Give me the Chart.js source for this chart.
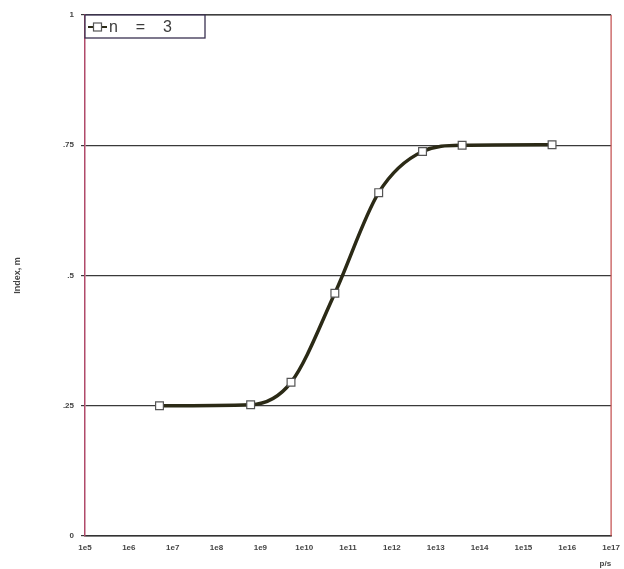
<!DOCTYPE html>
<html>
<head>
<meta charset="utf-8">
<script src="https://cdn.jsdelivr.net/npm/chart.js@4.4.1/dist/chart.umd.min.js"></script>
<style>
  html, body { margin: 0; padding: 0; background: #fff; }
  #wrap { width: 624px; height: 569px; position: relative; }
</style>
</head>
<body>
<div id="wrap"><canvas id="chart-canvas"></canvas></div>
<script>
// values
const xValues = [5e6, 6e8, 5e9, 5e10, 5e11, 5e12, 4e13, 4.5e15];
const yValues = [0.25, 0.252, 0.295, 0.466, 0.659, 0.738, 0.75, 0.751];
const seriesLabel = 'n = 3';
const xTickExps = [5, 6, 7, 8, 9, 10, 11, 12, 13, 14, 15, 16, 17];
const yTickValues = [0, 0.25, 0.5, 0.75, 1];
const yTickLabels = ['0', '.25', '.5', '.75', '1'];

const ink = '#2b2a16';
const tickFont = { family: 'Liberation Sans', size: 8, weight: 'bold' };

// top/right edges of the plot box and the framed legend inside the plot
const framePlugin = {
  id: 'frame',
  afterDraw(chart) {
    const ctx = chart.ctx, a = chart.chartArea;
    ctx.save();
    ctx.strokeStyle = '#444'; ctx.lineWidth = 1.2;
    ctx.beginPath(); ctx.moveTo(a.left, a.top); ctx.lineTo(a.right, a.top); ctx.stroke();
    ctx.strokeStyle = '#c24a4a';
    ctx.beginPath(); ctx.moveTo(a.right, a.top); ctx.lineTo(a.right, a.bottom); ctx.stroke();

    const bx = a.left, by = a.top, cy = by + 12;
    ctx.fillStyle = '#fff'; ctx.fillRect(bx, by, 120, 23);
    ctx.strokeStyle = '#3a3050'; ctx.lineWidth = 1.3;
    ctx.strokeRect(bx, by, 120, 23);
    ctx.strokeStyle = ink; ctx.lineWidth = 2;
    ctx.beginPath(); ctx.moveTo(bx + 3, cy); ctx.lineTo(bx + 22, cy); ctx.stroke();
    ctx.fillStyle = '#fff'; ctx.strokeStyle = '#555'; ctx.lineWidth = 1.2;
    ctx.fillRect(bx + 8.5, cy - 4, 8, 8); ctx.strokeRect(bx + 8.5, cy - 4, 8, 8);
    ctx.fillStyle = '#3c3c3c';
    ctx.font = '16px "Liberation Sans"';
    ctx.letterSpacing = '3px';
    ctx.textBaseline = 'middle'; ctx.textAlign = 'left';
    ctx.fillText(seriesLabel.replace(/ /g, '  '), bx + 24, cy + 1);
    ctx.restore();
  }
};

const ctx = document.getElementById('chart-canvas').getContext('2d');
window.theChart = new Chart(ctx, {
  type: 'line',
  data: {
    datasets: [{
      label: seriesLabel,
      data: xValues.map((x, i) => ({ x: x, y: yValues[i] })),
      borderColor: ink,
      borderWidth: 3.5,
      cubicInterpolationMode: 'monotone',
      pointStyle: 'rect',
      pointRadius: 5.5,
      pointBackgroundColor: '#fff',
      pointBorderColor: '#555',
      pointBorderWidth: 1.2
    }]
  },
  options: {
    responsive: true,
    maintainAspectRatio: false,
    animation: false,
    layout: { padding: { top: 15, right: 12, left: 0, bottom: 0 } },
    plugins: {
      tooltip: { enabled: false },
      legend: { display: false }
    },
    scales: {
      x: {
        type: 'logarithmic',
        min: Math.pow(10, xTickExps[0]),
        max: Math.pow(10, xTickExps[xTickExps.length - 1]),
        afterBuildTicks: (ax) => { ax.ticks = xTickExps.map(e => ({ value: Math.pow(10, e) })); },
        afterFit: (ax) => { ax.height = 33; },
        grid: { display: false, drawTicks: true, tickLength: 3 },
        border: { color: '#333', width: 1.5 },
        ticks: {
          color: '#444', font: tickFont, padding: 4, autoSkip: false, maxRotation: 0,
          callback: (v) => '1e' + Math.round(Math.log10(v))
        },
        title: { display: true, text: 'p/s', align: 'end', color: '#444', font: { family: 'Liberation Sans', size: 8, weight: 'bold' }, padding: { top: 0, bottom: 0 } }
      },
      y: {
        min: 0, max: 1,
        afterBuildTicks: (ax) => { ax.ticks = yTickValues.map(v => ({ value: v })); },
        afterFit: (ax) => { ax.width = 85; },
        grid: { color: '#3a3a3a', lineWidth: 1.2, tickLength: 4 },
        border: { color: '#b04a6a', width: 1.5 },
        ticks: {
          color: '#444', font: tickFont, padding: 7,
          callback: (v) => yTickLabels[yTickValues.indexOf(v)]
        },
        title: { display: true, text: 'Index, m', color: '#444', font: { family: 'Liberation Sans', size: 9, weight: 'bold' }, padding: { top: 12, bottom: 30 } }
      }
    }
  },
  plugins: [framePlugin]
});
</script>
</body>
</html>
